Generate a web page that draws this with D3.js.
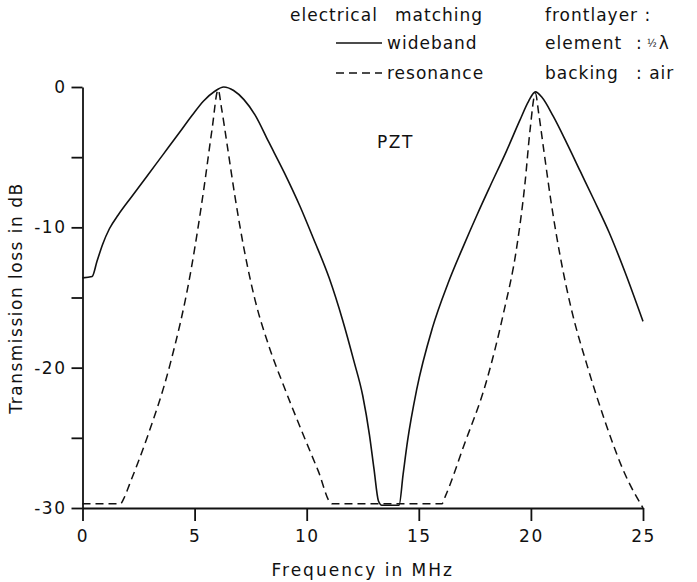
<!DOCTYPE html>
<html>
<head>
<meta charset="utf-8">
<script src="https://cdn.jsdelivr.net/npm/d3@7"></script>
<style>
  body { margin: 0; background: #fff; }
  svg { display: block; }
  text { font-family: "DejaVu Sans", sans-serif; fill: #111; }
  .axis path, .axis line { stroke: #111; stroke-width: 1.8; }
  .axis text { font-size: 17px; letter-spacing: 1.5px; }
</style>
</head>
<body>
<svg id="chart"></svg>
<script>
// wideband (solid) curve
const wideFreq = [0, 0.43, 0.65, 0.9, 1.2, 1.6, 2.2, 2.9, 3.6, 4.3, 4.9, 5.4, 5.9, 6.3, 6.74, 7.2, 7.7, 8.3, 9.0, 9.7, 10.3,
  11.0, 11.6, 12.1, 12.5, 12.8, 13.0, 13.2, 13.35, 14.12, 14.3, 14.5, 14.9, 15.6, 16.3, 17.0, 17.6, 18.2, 18.9, 19.5, 19.9,
  20.2, 20.5, 21.0, 21.6, 22.2, 22.8, 23.5, 24.2, 25];
const wideDb = [-13.6, -13.5, -12.4, -11.2, -10.1, -9.1, -7.8, -6.3, -4.8, -3.3, -2.0, -1.0, -0.3, 0, -0.25, -0.9, -2.0, -3.9, -6.1, -8.5, -10.8,
  -13.6, -16.6, -19.5, -22.0, -24.8, -27.2, -29.5, -29.8, -29.8, -27.6, -25.2, -21.6, -17.2, -14.0, -11.3, -9.1, -7.0, -4.6, -2.4, -1.0,
  -0.35, -0.75, -2.1, -4.0, -6.0, -8.0, -10.4, -13.2, -16.7];

// resonance (dashed) curve
const resFreq = [0, 1.69, 1.85, 2.1, 2.9, 3.9, 4.8, 5.4, 5.78, 6.05, 6.2, 6.45, 6.8, 7.2, 7.7, 8.3, 9.0, 9.8, 10.5, 11.13,
  16.03, 16.2, 17.0, 18.03, 18.78, 19.37, 19.74, 19.96, 20.2, 20.35, 20.6, 20.9, 21.3, 21.8, 22.5, 23.3, 24.2, 25];
const resDb = [-29.7, -29.7, -29.3, -28.3, -24.9, -19.8, -13.4, -7.4, -3.0, -0.2, -1.5, -4.1, -7.8, -11.5, -15.2, -18.4, -21.4, -24.6, -27.3, -29.7,
  -29.7, -29.1, -25.6, -20.9, -16.1, -11.4, -6.8, -3.1, -0.45, -1.9, -4.8, -8.2, -12.0, -15.8, -19.8, -23.8, -27.6, -30];

const xTicks = [0, 5, 10, 15, 20, 25];
const yTicks = [0, -5, -10, -15, -20, -25, -30];
const yLabelled = [0, -10, -20, -30];

const width = 697, height = 582;
const margin = { top: 87, right: 54, bottom: 74, left: 82.5 };
const innerW = width - margin.left - margin.right;
const innerH = height - margin.top - margin.bottom;

const svg = d3.select("#chart").attr("width", width).attr("height", height);
const chart = svg.append("g").attr("transform", `translate(${margin.left},${margin.top})`);

const xScale = d3.scaleLinear().domain([0, 25]).range([0, innerW]);
const yScale = d3.scaleLinear().domain([-30, 0]).range([innerH, 0]);

const xAxis = d3.axisBottom(xScale).tickValues(xTicks).tickSize(13).tickSizeOuter(0).tickPadding(9);
const yAxis = d3.axisLeft(yScale).tickValues(yTicks).tickSize(11).tickSizeOuter(0).tickPadding(5)
  .tickFormat((d) => (yLabelled.includes(d) ? (d === 0 ? "0" : "-" + Math.abs(d)) : ""));

chart.append("g").attr("class", "axis x-axis").attr("transform", `translate(0,${innerH})`).call(xAxis);
chart.append("g").attr("class", "axis y-axis").call(yAxis);

// curves
const wide = wideFreq.map((f, i) => ({ f: f, db: wideDb[i] }));
const res = resFreq.map((f, i) => ({ f: f, db: resDb[i] }));

const line = d3.line()
  .x((d) => xScale(d.f))
  .y((d) => yScale(d.db))
  .curve(d3.curveMonotoneX);

chart.append("path").datum(wide)
  .attr("fill", "none").attr("stroke", "#111").attr("stroke-width", 1.6)
  .attr("d", line);

chart.append("path").datum(res)
  .attr("fill", "none").attr("stroke", "#111").attr("stroke-width", 1.5)
  .attr("stroke-dasharray", "8,5")
  .attr("d", line);

// axis titles
svg.append("text")
  .attr("x", margin.left + innerW / 2)
  .attr("y", 576)
  .attr("text-anchor", "middle")
  .style("font-size", "17px")
  .style("letter-spacing", "2px")
  .text("Frequency in MHz");

svg.append("text")
  .attr("transform", `translate(22,298) rotate(-90)`)
  .attr("text-anchor", "middle")
  .style("font-size", "17px")
  .style("letter-spacing", "1.5px")
  .text("Transmission loss in dB");

svg.append("text")
  .attr("x", 377).attr("y", 148)
  .style("font-size", "17px")
  .style("letter-spacing", "1.5px")
  .text("PZT");

// legend
const legend = svg.append("g").style("font-size", "17px").style("letter-spacing", "1px");
legend.append("text").attr("x", 290).attr("y", 21).text("electrical");
legend.append("text").attr("x", 395).attr("y", 21).text("matching");
legend.append("text").attr("x", 545).attr("y", 21).text("frontlayer :");

legend.append("line").attr("x1", 336).attr("x2", 382).attr("y1", 43).attr("y2", 43)
  .attr("stroke", "#111").attr("stroke-width", 1.6);
legend.append("text").attr("x", 387).attr("y", 49).text("wideband");
legend.append("text").attr("x", 545).attr("y", 49).text("element");
legend.append("text").attr("x", 636).attr("y", 49).text(":");
const half = legend.append("text").attr("x", 647).attr("y", 49);
half.append("tspan").style("font-size", "10px").attr("dy", "-2").text("½");
half.append("tspan").attr("dy", "2").attr("dx", "1").text("λ");

legend.append("line").attr("x1", 336).attr("x2", 382).attr("y1", 73).attr("y2", 73)
  .attr("stroke", "#111").attr("stroke-width", 1.5).attr("stroke-dasharray", "8,5");
legend.append("text").attr("x", 387).attr("y", 79).text("resonance");
legend.append("text").attr("x", 545).attr("y", 79).text("backing");
legend.append("text").attr("x", 636).attr("y", 79).text(": air");
</script>
</body>
</html>
